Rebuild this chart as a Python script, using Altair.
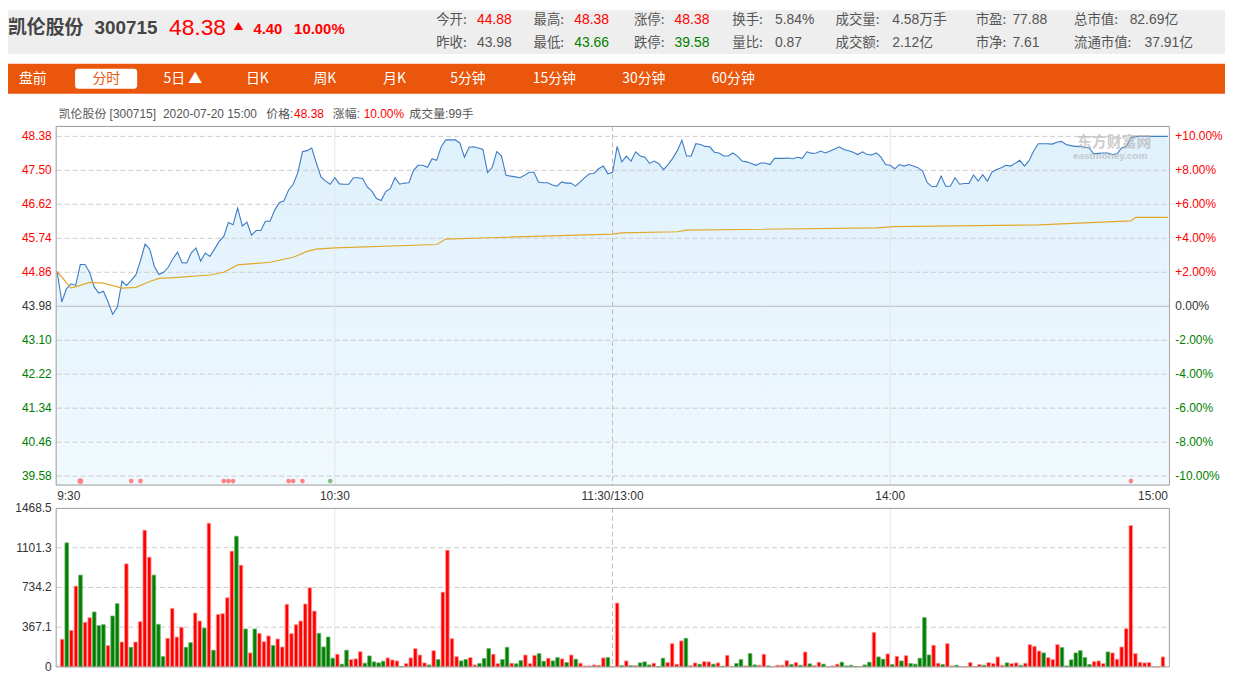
import altair as alt
import pandas as pd

# ---------------- data ----------------
minutes = list(range(241))
price = [
    44.88, 44.09, 44.43, 44.56, 44.52, 45.06, 45.06, 44.86, 44.48, 44.32,
    44.37, 44.09, 43.77, 43.96, 44.63, 44.52, 44.65, 44.79, 45.16, 45.59,
    45.46, 45.01, 44.80, 44.86, 44.99, 45.21, 45.38, 45.11, 45.10, 45.37,
    45.49, 45.15, 45.36, 45.27, 45.46, 45.66, 45.79, 46.15, 46.09, 46.52,
    46.06, 46.16, 45.82, 45.94, 45.94, 46.18, 46.18, 46.47, 46.66, 46.71,
    46.99, 47.14, 47.44, 47.98, 48.01, 48.08, 47.69, 47.33, 47.22, 47.14,
    47.31, 47.15, 47.14, 47.14, 47.31, 47.31, 47.29, 47.07, 46.96, 46.77,
    46.72, 46.95, 47.03, 47.31, 47.14, 47.17, 47.18, 47.50, 47.63, 47.63,
    47.58, 47.80, 47.76, 48.12, 48.29, 48.29, 48.29, 48.21, 47.84, 48.10,
    48.11, 48.08, 48.04, 47.44, 47.58, 47.99, 47.87, 47.37, 47.35, 47.33,
    47.31, 47.37, 47.45, 47.45, 47.20, 47.18, 47.18, 47.12, 47.09, 47.20,
    47.17, 47.17, 47.09, 47.20, 47.31, 47.41, 47.42, 47.54, 47.61, 47.41,
    47.45, 48.12, 47.72, 47.87, 47.74, 47.98, 47.87, 47.84, 47.68, 47.74,
    47.67, 47.52, 47.65, 47.81, 48.01, 48.28, 47.87, 47.87, 48.19, 48.17,
    48.12, 48.11, 47.97, 47.95, 47.87, 47.87, 47.95, 47.87, 47.74, 47.72,
    47.68, 47.63, 47.69, 47.69, 47.65, 47.81, 47.81, 47.81, 47.82, 47.80,
    47.84, 47.81, 47.98, 47.94, 47.95, 48.00, 47.95, 48.00, 48.05, 48.11,
    48.04, 48.01, 47.97, 47.91, 47.98, 47.91, 47.90, 47.95, 47.84, 47.65,
    47.63, 47.54, 47.65, 47.61, 47.65, 47.61, 47.57, 47.48, 47.18, 47.08,
    47.08, 47.35, 47.09, 47.09, 47.31, 47.14, 47.16, 47.16, 47.38, 47.22,
    47.39, 47.22, 47.46, 47.52, 47.57, 47.63, 47.61, 47.68, 47.76, 47.61,
    47.75, 48.00, 48.19, 48.19, 48.19, 48.18, 48.23, 48.25, 48.17, 48.14,
    48.12, 48.12, 48.10, 48.08, 47.93, 47.94, 47.95, 47.95, 47.91, 47.93,
    48.08, 48.12, 48.34, 48.38, 48.38, 48.38, 48.38, 48.38, 48.38, 48.38,
    48.38,
]
volume = [
    255, 1146, 338, 746, 848, 412, 455, 507, 381, 390,
    197, 470, 584, 230, 952, 181, 230, 418, 1263, 1014,
    848, 393, 95, 264, 541, 276, 366, 181, 224, 498,
    424, 359, 1327, 154, 485, 492, 639, 1069, 1207, 940,
    350, 129, 350, 310, 233, 286, 197, 258, 184, 578,
    307, 390, 424, 581, 731, 516, 310, 184, 276, 80,
    117, 25, 154, 68, 74, 141, 34, 101, 46, 37,
    52, 83, 64, 55, 3, 31, 83, 169, 110, 37,
    18, 150, 68, 691, 1078, 261, 95, 55, 68, 86,
    18, 31, 77, 169, 117, 31, 68, 181, 34, 28,
    58, 110, 31, 107, 123, 52, 80, 55, 86, 74,
    40, 110, 71, 34, 9, 9, 18, 15, 83, 86,
    3, 590, 12, 55, 12, 12, 37, 46, 18, 34,
    3, 80, 40, 215, 25, 240, 264, 12, 37, 25,
    49, 46, 25, 37, 6, 107, 3, 31, 68, 9,
    123, 18, 15, 117, 9, 3, 15, 15, 58, 22,
    40, 15, 138, 28, 12, 43, 25, 3, 9, 25,
    43, 9, 15, 3, 3, 18, 43, 319, 92, 71,
    120, 22, 98, 55, 104, 31, 25, 80, 455, 110,
    200, 34, 22, 215, 9, 15, 3, 3, 40, 3,
    22, 15, 40, 31, 92, 15, 37, 31, 37, 15,
    34, 206, 190, 147, 129, 86, 68, 206, 178, 9,
    65, 129, 150, 86, 22, 49, 55, 31, 138, 129,
    71, 184, 353, 1306, 123, 43, 37, 40, 0, 0,
    92,
]
volume_side = list(
    "rgrrgrrggg" "rggrrgrrrr" "gggrrrrggr" "rgrgrrrrgr" "grgrrrgrrr"
    "rrrrrrgggg" "rggrrrgggg" "grrrgrrrrr" "grgrrrrggr" "rgggrrggrg"
    "grrrggrggr" "grgrrrrrrg" "rrgrgrgggr" "ggrrrrgrrg" "rrgrgrrggr"
    "ggrrgrrrrg" "rgrgrrgrrr" "ggggrggrgg" "rgrgrggggg" "rrgrrgrrrr"
    "rgrrrrgrrg" "rrrrgrrrgg" "gggggrrrgr" "rrrrrrrrrr" "r"
)
avg_minutes = [0, 3, 5, 7, 10, 14, 17, 20, 22, 26, 33, 36, 39, 46, 51, 54, 56, 60,
               82, 84, 95, 120, 122, 134, 136, 177, 181, 212, 232, 233, 240]
avg_price = [44.88, 44.45, 44.52, 44.60, 44.58, 44.45, 44.47, 44.62, 44.70, 44.73,
             44.79, 44.86, 45.05, 45.12, 45.25, 45.40, 45.46, 45.49, 45.58, 45.72,
             45.76, 45.85, 45.88, 45.91, 45.95, 46.01, 46.04, 46.09, 46.19, 46.28, 46.28]

price_ticks = [48.38, 47.50, 46.62, 45.74, 44.86, 43.98, 43.10, 42.22, 41.34, 40.46, 39.58]
pct_text = ["+10.00%", "+8.00%", "+6.00%", "+4.00%", "+2.00%", "0.00%",
            "-2.00%", "-4.00%", "-6.00%", "-8.00%", "-10.00%"]
tick_side = ["up"] * 5 + ["flat"] + ["down"] * 5
vol_ticks = [0, 367.1, 734.2, 1101.3, 1468.5]
vol_text = ["0", "367.1", "734.2", "1101.3", "1468.5"]
time_ticks = [0, 60, 120, 180, 240]
time_text = ["9:30", "10:30", "11:30/13:00", "14:00", "15:00"]
dot_minutes = [5, 16, 18, 36, 37, 38, 50, 51, 53, 59, 232]
dot_side = ["r", "r", "r", "r", "r", "r", "r", "r", "r", "g", "r"]
dot_big = [1, 0, 0, 0, 0, 0, 0, 0, 0, 0, 0]

# ---------------- styling ----------------
NUM = "Liberation Sans, Arial, Noto Sans CJK SC"
CJK = "Noto Sans CJK SC"
RED = "#ff0000"
GREEN = "#008000"
GRAY = "#555555"

XS = alt.Scale(domain=[0, 240], range=[49.5, 1167.5])
PY = alt.Scale(domain=[39.58, 48.38], range=[469, 127])
VY = alt.Scale(domain=[0, 1468.5], range=[661, 501])

ONE = pd.DataFrame({"k": [0]})


def txt(text, x, y, size=12, color="#333333", weight="normal", align="left", font=NUM, opacity=1):
    return alt.Chart(ONE).mark_text(
        text=text, align=align, baseline="middle", fontSize=size, color=color,
        fontWeight=weight, font=font, opacity=opacity
    ).encode(x=alt.value(x), y=alt.value(y))


def box(x, x2, y, y2, fill=None, stroke=None, radius=0, sw=1):
    kw = dict(cornerRadius=radius)
    if fill is not None:
        kw["fill"] = fill
    else:
        kw["fillOpacity"] = 0
    if stroke is not None:
        kw["stroke"] = stroke
        kw["strokeWidth"] = sw
    return alt.Chart(ONE).mark_rect(**kw).encode(
        x=alt.value(x), x2=alt.value(x2), y=alt.value(y), y2=alt.value(y2))


layers = []

# header band
layers.append(box(0, 1225, 0, 44, fill="#eeeeee"))
layers.append(txt("凯伦股份", 0, 18, size=19, color="#444444", weight="bold", font=CJK))
layers.append(txt("300715", 87, 18, size=19, color="#444444", weight="bold"))
layers.append(txt("48.38", 162, 18, size=23, color=RED))
layers.append(txt("▲", 227, 17, size=10, color=RED, font=CJK))
layers.append(txt("4.40", 247, 19, size=15, color=RED, weight="bold"))
layers.append(txt("10.00%", 288, 19, size=15, color=RED, weight="bold"))

row1 = [("今开:", 431, "44.88", 472, RED), ("最高:", 529, "48.38", 570, RED),
        ("涨停:", 630, "48.38", 671, RED), ("换手:", 729, "5.84%", 772, GRAY),
        ("成交量:", 833, "4.58万手", 890, GRAY), ("市盈:", 974, "77.88", 1011, GRAY),
        ("总市值:", 1073, "82.69亿", 1129, GRAY)]
row2 = [("昨收:", 431, "43.98", 472, GRAY), ("最低:", 529, "43.66", 570, GREEN),
        ("跌停:", 630, "39.58", 671, GREEN), ("量比:", 729, "0.87", 772, GRAY),
        ("成交额:", 833, "2.12亿", 890, GRAY), ("市净:", 974, "7.61", 1011, GRAY),
        ("流通市值:", 1073, "37.91亿", 1144, GRAY)]
for yrow, row in ((10, row1), (33, row2)):
    for lab, lx, val, vx, col in row:
        layers.append(txt(lab, lx, yrow, size=13.5, color=GRAY, font=CJK))
        layers.append(txt(val, vx, yrow, size=14, color=col))

# tab bar
layers.append(box(0, 1225, 54, 84, fill="#e9560c"))
layers.append(box(67.5, 130, 59, 79, fill="#ffffff", radius=3))
tabs = [("盘前", 25), ("分时", 99), ("5日 ▲", 176), ("日K", 251), ("周K", 319),
        ("月K", 389), ("5分钟", 463), ("15分钟", 550), ("30分钟", 640), ("60分钟", 730)]
for lab, cx in tabs:
    col = "#e9560c" if lab == "分时" else "#ffffff"
    layers.append(txt(lab, cx, 69, size=14, color=col, align="center", font=CJK))

# info line
info = [("凯伦股份 [300715]", 51, GRAY), ("2020-07-20 15:00", 156, GRAY), ("价格:", 260, GRAY),
        ("48.38", 288, RED), ("涨幅:", 327, GRAY), ("10.00%", 358, RED), ("成交量:99手", 404, GRAY)]
for lab, x, col in info:
    layers.append(txt(lab, x, 105, size=12, color=col))

# ---------------- price panel ----------------
pdf = pd.DataFrame({"m": minutes, "p": price})
grad = alt.Gradient(gradient="linear",
                    stops=[alt.GradientStop(color="#dff1fc", offset=0),
                           alt.GradientStop(color="#f0f9fe", offset=1)],
                    x1=0, x2=0, y1=0, y2=1)
layers.append(alt.Chart(pdf).mark_area(fill=grad).encode(
    x=alt.X("m:Q", scale=XS, axis=None),
    y=alt.Y("p:Q", scale=PY, axis=None, stack=None),
    y2=alt.value(478)))

tdf = pd.DataFrame({"p": price_ticks, "lab": [f"{v:.2f}" for v in price_ticks],
                    "pct": pct_text, "side": tick_side})
layers.append(alt.Chart(tdf[tdf.side != "flat"]).mark_rule(
    color="#cccccc", strokeDash=[5, 3], strokeWidth=1).encode(
    y=alt.Y("p:Q", scale=PY, axis=None), x=alt.value(49), x2=alt.value(1169)))
layers.append(alt.Chart(tdf[tdf.side == "flat"]).mark_rule(
    color="#bbbbbb", strokeWidth=1).encode(
    y=alt.Y("p:Q", scale=PY, axis=None), x=alt.value(49), x2=alt.value(1169)))

vdf_lines = pd.DataFrame({"m": time_ticks[1:4], "kind": ["solid", "dash", "solid"]})
for y0, y1 in ((117, 478), (501, 661)):
    layers.append(alt.Chart(vdf_lines[vdf_lines.kind == "solid"]).mark_rule(
        color="#e4e4e4", strokeWidth=1).encode(
        x=alt.X("m:Q", scale=XS, axis=None), y=alt.value(y0), y2=alt.value(y1)))
    layers.append(alt.Chart(vdf_lines[vdf_lines.kind == "dash"]).mark_rule(
        color="#bbbbbb", strokeDash=[5, 3], strokeWidth=1).encode(
        x=alt.X("m:Q", scale=XS, axis=None), y=alt.value(y0), y2=alt.value(y1)))

layers.append(alt.Chart(pdf).mark_line(color="#3d7bc4", strokeWidth=1.1).encode(
    x=alt.X("m:Q", scale=XS, axis=None),
    y=alt.Y("p:Q", scale=PY, axis=None)))

adf = pd.DataFrame({"m": avg_minutes, "a": avg_price})
layers.append(alt.Chart(adf).mark_line(color="#e2a829", strokeWidth=1.2).encode(
    x=alt.X("m:Q", scale=XS, axis=None),
    y=alt.Y("a:Q", scale=PY, axis=None)))

ddf = pd.DataFrame({"m": dot_minutes, "side": dot_side, "big": dot_big})
layers.append(alt.Chart(ddf).mark_circle(opacity=1).encode(
    x=alt.X("m:Q", scale=XS, axis=None),
    y=alt.value(474),
    color=alt.Color("side:N", scale=alt.Scale(domain=["r", "g"], range=["#ff8080", "#7fbf7f"]), legend=None),
    size=alt.Size("big:Q", scale=alt.Scale(domain=[0, 1], range=[22, 34]), legend=None)))

# watermark
layers.append(txt("东方财富网", 1076, 133, size=15, color="#b8b8b8", weight="bold", font=CJK, opacity=0.7))
layers.append(txt("eastmoney.com", 1072, 147, size=10, color="#b8b8b8", weight="bold", opacity=0.7))

# axis labels of price panel
side_color = alt.Color("side:N", scale=alt.Scale(domain=["up", "flat", "down"],
                                                 range=[RED, "#333333", GREEN]), legend=None)
layers.append(alt.Chart(tdf).mark_text(align="right", baseline="middle", fontSize=12, font=NUM).encode(
    y=alt.Y("p:Q", scale=PY, axis=None), x=alt.value(44), text="lab:N", color=side_color))
layers.append(alt.Chart(tdf).mark_text(align="left", baseline="middle", fontSize=12, font=NUM).encode(
    y=alt.Y("p:Q", scale=PY, axis=None), x=alt.value(1175), text="pct:N", color=side_color))

# time labels
ttdf = pd.DataFrame({"m": time_ticks, "t": time_text})
for sel, al in ((ttdf.m == 0, "left"), ((ttdf.m > 0) & (ttdf.m < 240), "center"), (ttdf.m == 240, "right")):
    layers.append(alt.Chart(ttdf[sel]).mark_text(align=al, baseline="middle", fontSize=12,
                                                 font=NUM, color="#333333").encode(
        x=alt.X("m:Q", scale=XS, axis=None), y=alt.value(489), text="t:N"))

# ---------------- volume panel ----------------
vgrid = pd.DataFrame({"v": vol_ticks[1:4]})
layers.append(alt.Chart(vgrid).mark_rule(color="#cccccc", strokeDash=[5, 3], strokeWidth=1).encode(
    y=alt.Y("v:Q", scale=VY, axis=None), x=alt.value(49), x2=alt.value(1169)))

voldf = pd.DataFrame({"m": minutes, "v": volume, "side": volume_side})
layers.append(alt.Chart(voldf).mark_bar(size=3.6, strokeWidth=0.8).encode(
    x=alt.X("m:Q", scale=XS, axis=None),
    y=alt.Y("v:Q", scale=VY, axis=None, stack=None),
    color=alt.Color("side:N", scale=alt.Scale(domain=["r", "g"], range=["#ff0000", "#007f00"]), legend=None),
    stroke=alt.Stroke("side:N", scale=alt.Scale(domain=["r", "g"], range=["#ff9f9f", "#66b266"]), legend=None)))

vtdf = pd.DataFrame({"v": vol_ticks, "t": vol_text})
layers.append(alt.Chart(vtdf).mark_text(align="right", baseline="middle", fontSize=12,
                                        font=NUM, color="#333333").encode(
    y=alt.Y("v:Q", scale=VY, axis=None), x=alt.value(44), text="t:N"))

# frames
layers.append(box(48.5, 1169, 117, 478, stroke="#999999"))
layers.append(box(48.5, 1169, 501.5, 661, stroke="#999999"))

chart = alt.layer(*layers).resolve_scale(
    x="independent", y="independent", color="independent", size="independent", stroke="independent"
).properties(
    width=1225, height=672, autosize=alt.AutoSizeParams(type="none"), padding=0
).configure_view(strokeWidth=0)

chart.save("out.html", embed_options={"renderer": "svg", "actions": False})
